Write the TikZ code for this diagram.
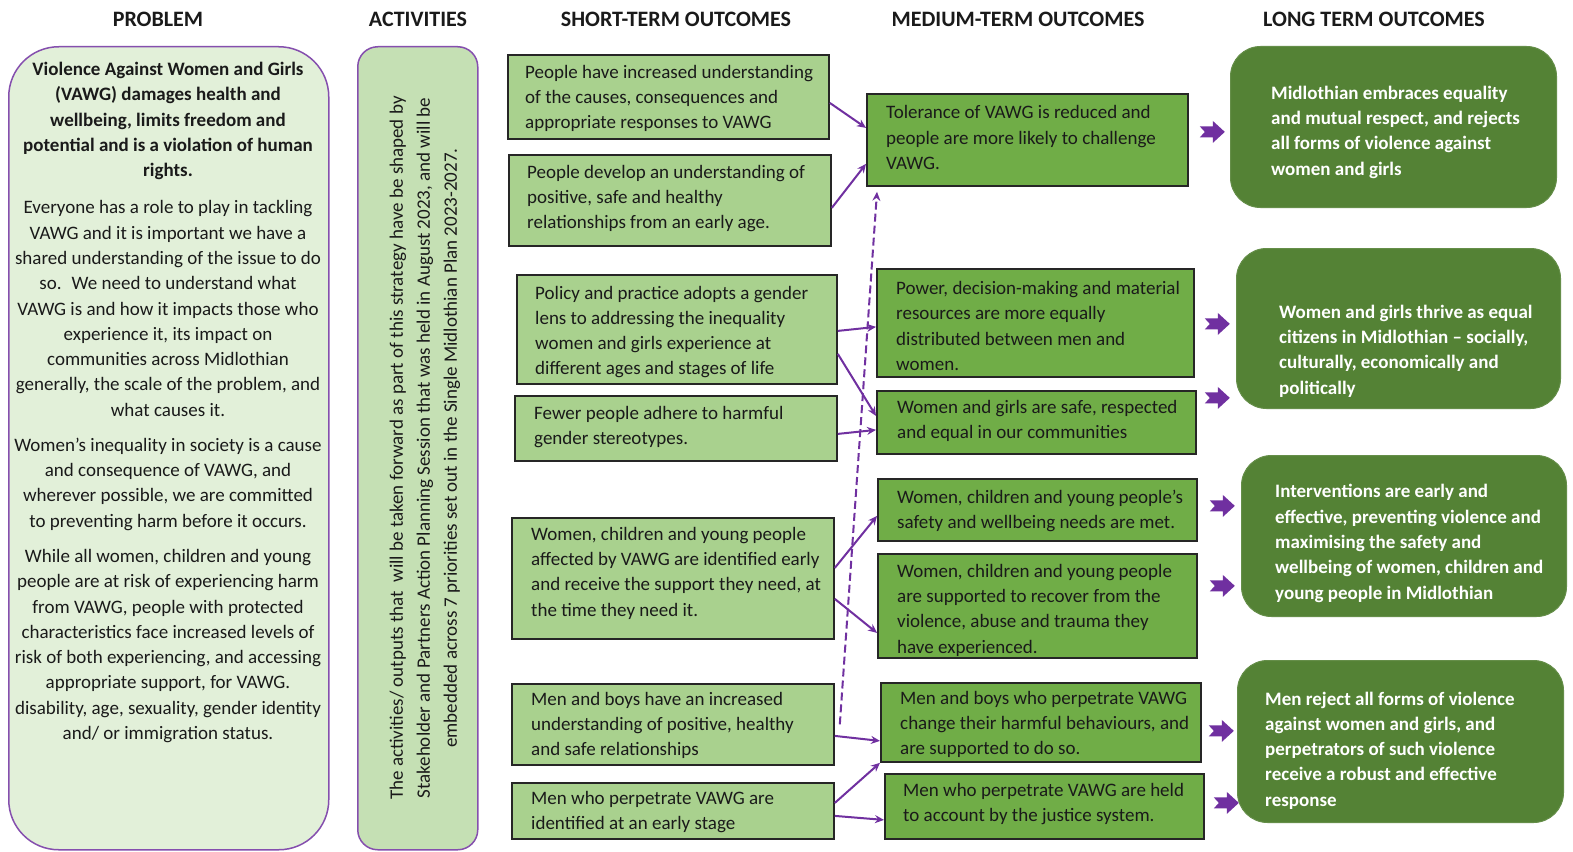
\documentclass[tikz,border=0pt]{standalone}
\usepackage{fontspec}
\setmainfont{Carlito}
\usetikzlibrary{arrows.meta,calc}
\definecolor{vpurple}{HTML}{7030A0}
\definecolor{probfill}{HTML}{E2F0D9}
\definecolor{actfill}{HTML}{C5E0B4}
\definecolor{shortfill}{HTML}{A9D18E}
\definecolor{medfill}{HTML}{70AD47}
\definecolor{longfill}{HTML}{548235}
\definecolor{boxline}{HTML}{262626}
\definecolor{txtdark}{HTML}{1A1A1A}
\tikzset{
  header/.style={font=\fontsize{22}{24}\selectfont\bfseries, text=txtdark, inner sep=0pt},
  sbox/.style={draw=boxline, line width=1.8pt, fill=shortfill, rectangle, inner sep=0pt, anchor=north west},
  mbox/.style={draw=boxline, line width=1.8pt, fill=medfill, rectangle, inner sep=0pt, anchor=north west},
  lbox/.style={draw=longfill!90!white, line width=1pt, fill=longfill, rectangle, rounded corners=30pt, inner sep=0pt, anchor=north west},
  body/.style={font=\fontsize{19}{25.3}\selectfont, align=left, inner sep=0pt, anchor=west, text=txtdark, yshift=-2.5pt},
  lbody/.style={font=\fontsize{19}{25.3}\selectfont\bfseries, align=left, inner sep=0pt, anchor=west, text=white, yshift=-2.5pt},
  pbody/.style={font=\fontsize{19}{25.3}\selectfont, align=center, inner sep=0pt, text=txtdark, yshift=-3pt},
  conn/.style={draw=vpurple, line width=2pt, -{Stealth[length=9pt,width=8pt]}},
  dconn/.style={draw=vpurple, line width=2pt, dash pattern=on 8pt off 4pt, -{Stealth[length=9pt,width=8pt]}},
  blk/.pic={\fill[vpurple] (0,-5.5)--(13,-5.5)--(13,-11)--(25,0)--(13,11)--(13,5.5)--(0,5.5)--(5,0)--cycle;}
}
\begin{document}
\begin{tikzpicture}[x=1pt,y=-1pt]
\useasboundingbox (0,0) rectangle (1573,851);
\fill[white] (0,0) rectangle (1573,851);

% headers
\node[header] (hprob) at (158,19.5) {PROBLEM};
\node[header] (hact) at (418,19.5) {ACTIVITIES};
\node[header] (hshort) at (676,19.5) {SHORT-TERM OUTCOMES};
\node[header] (hmed) at (1018,19.5) {MEDIUM-TERM OUTCOMES};
\node[header] (hlong) at (1374,19.5) {LONG TERM OUTCOMES};

% problem
\node[draw=vpurple!85, line width=1.5pt, fill=probfill, rounded corners=50pt, minimum width=320pt, minimum height=803pt, inner sep=0pt, anchor=north west] (prob) at (8,46) {};
\node[pbody, font=\fontsize{19}{25.3}\selectfont\bfseries] (p1) at (168,118) {Violence Against Women and Girls\\(VAWG) damages health and\\wellbeing, limits freedom and\\potential and is a violation of human\\rights.};
\node[pbody] (p2) at (168,305.5) {Everyone has a role to play in tackling\\VAWG and it is important we have a\\shared understanding of the issue to do\\so.~ We need to understand what\\VAWG is and how it impacts those who\\experience it, its impact on\\communities across Midlothian\\generally, the scale of the problem, and\\what causes it.};
\node[pbody] (p3) at (168,481) {Women’s inequality in society is a cause\\and consequence of VAWG, and\\wherever possible, we are committed\\to preventing harm before it occurs.};
\node[pbody] (p4) at (168,643) {While all women, children and young\\people are at risk of experiencing harm\\from VAWG, people with protected\\characteristics face increased levels of\\risk of both experiencing, and accessing\\appropriate support, for VAWG.\\disability, age, sexuality, gender identity\\and/ or immigration status.};

% activities
\node[draw=vpurple!85, line width=1.5pt, fill=actfill, rounded corners=20pt, minimum width=120pt, minimum height=803pt, inner sep=0pt, anchor=north west] (act) at (357,46) {};
\node[rotate=90, inner sep=0pt, text=txtdark, align=center, font=\fontsize{19}{27}\selectfont] (actt) at (425,448) {The activities/ outputs that~ will be taken forward as part of this strategy have be shaped by\\Stakeholder and Partners Action Planning Session that was held in August 2023, and will be\\embedded across 7 priorities set out in the Single Midlothian Plan 2023-2027.};

% short-term
\node[sbox, minimum width=321pt, minimum height=84pt] (s1) at (507,54) {};
\node[body] (s1t) at (525,96) {People have increased understanding\\of the causes, consequences and\\appropriate responses to VAWG};
\node[sbox, minimum width=322pt, minimum height=91pt] (s2) at (508,154) {};
\node[body] (s2t) at (527,196) {People develop an understanding of\\positive, safe and healthy\\relationships from an early age.};
\node[sbox, minimum width=320pt, minimum height=109pt] (s3) at (516,274) {};
\node[body] (s3t) at (535,329.5) {Policy and practice adopts a gender\\lens to addressing the inequality\\women and girls experience at\\different ages and stages of life};
\node[sbox, minimum width=322pt, minimum height=65pt] (s4) at (514,395) {};
\node[body] (s4t) at (534,424.5) {Fewer people adhere to harmful\\gender stereotypes.};
\node[sbox, minimum width=322pt, minimum height=121pt] (s5) at (511,517) {};
\node[body] (s5t) at (531,570.5) {Women, children and young people\\affected by VAWG are identified early\\and receive the support they need, at\\the time they need it.};
\node[sbox, minimum width=322pt, minimum height=81pt] (s6) at (511,683) {};
\node[body] (s6t) at (531,723) {Men and boys have an increased\\understanding of positive, healthy\\and safe relationships};
\node[sbox, minimum width=322pt, minimum height=56pt] (s7) at (511,782) {};
\node[body] (s7t) at (531,809.5) {Men who perpetrate VAWG are\\identified at an early stage};

% medium-term
\node[mbox, minimum width=321pt, minimum height=92pt] (m1) at (866,93) {};
\node[body] (m1t) at (886,135) {Tolerance of VAWG is reduced and\\people are more likely to challenge\\VAWG.};
\node[mbox, minimum width=317pt, minimum height=108pt] (m2) at (876,268) {};
\node[body] (m2t) at (896,323.5) {Power, decision-making and material\\resources are more equally\\distributed between men and\\women.};
\node[mbox, minimum width=319pt, minimum height=63pt] (m3) at (876,390) {};
\node[body] (m3t) at (897,418.5) {Women and girls are safe, respected\\and equal in our communities};
\node[mbox, minimum width=319pt, minimum height=62pt] (m4) at (877,478) {};
\node[body] (m4t) at (897,508.5) {Women, children and young people’s\\safety and wellbeing needs are met.};
\node[mbox, minimum width=319pt, minimum height=104pt] (m5) at (877,553) {};
\node[body] (m5t) at (897,607.5) {Women, children and young people\\are supported to recover from the\\violence, abuse and trauma they\\have experienced.};
\node[mbox, minimum width=320pt, minimum height=79pt] (m6) at (880,682) {};
\node[body] (m6t) at (900,722) {Men and boys who perpetrate VAWG\\change their harmful behaviours, and\\are supported to do so.};
\node[mbox, minimum width=319pt, minimum height=65pt] (m7) at (884,773) {};
\node[body] (m7t) at (903,801.5) {Men who perpetrate VAWG are held\\to account by the justice system.};

% long-term
\node[lbox, minimum width=326pt, minimum height=161pt] (l1) at (1230,46) {};
\node[lbody] (l1t) at (1271,129.5) {Midlothian embraces equality\\and mutual respect, and rejects\\all forms of violence against\\women and girls};
\node[lbox, minimum width=324pt, minimum height=160pt] (l2) at (1236,248) {};
\node[lbody] (l2t) at (1279,348.5) {Women and girls thrive as equal\\citizens in Midlothian – socially,\\culturally, economically and\\politically};
\node[lbox, minimum width=325pt, minimum height=161pt] (l3) at (1241,455) {};
\node[lbody] (l3t) at (1275,541) {Interventions are early and\\effective, preventing violence and\\maximising the safety and\\wellbeing of women, children and\\young people in Midlothian};
\node[lbox, minimum width=326pt, minimum height=162pt] (l4) at (1237,660) {};
\node[lbody] (l4t) at (1265,748) {Men reject all forms of violence\\against women and girls, and\\perpetrators of such violence\\receive a robust and effective\\response};

% connectors short -> medium
\draw[conn] ([yshift=-6pt]s1.east) -- ([yshift=12pt]m1.west);
\draw[conn] ([yshift=-7.5pt]s2.east) -- ([yshift=-24pt]m1.west);
\draw[conn] ([yshift=-1.5pt]s3.east) -- ([yshift=-4pt]m2.west);
\draw[conn] ([yshift=-24.5pt]s3.east) -- ([yshift=6.5pt]m3.west);
\draw[conn] ([yshift=-5.5pt]s4.east) -- ([yshift=-7.5pt]m3.west);
\draw[conn] ([yshift=10.5pt]s5.east) -- ([yshift=-6pt]m4.west);
\draw[conn] ([yshift=-20.5pt]s5.east) -- ([yshift=-27pt]m5.west);
\draw[conn] ([yshift=-11.5pt]s6.east) -- ([yshift=-18.5pt]m6.west);
\draw[conn] ([yshift=8pt]s7.east) -- (m6.south west);
\draw[conn] ([yshift=-5pt]s7.east) -- ([yshift=-13.5pt]m7.west);
\draw[dconn] ([xshift=5pt]s6.east) -- ([xshift=11pt,yshift=-5pt]m1.south west);

% block arrows medium -> long
\pic at ([xshift=11pt,yshift=8pt]m1.east) {blk};
\pic at ([xshift=10pt,yshift=-1pt]m2.east) {blk};
\pic at ([xshift=8pt,yshift=24.5pt]m3.east) {blk};
\pic at ([xshift=12pt,yshift=4pt]m4.east) {blk};
\pic at ([xshift=12pt,yshift=20pt]m5.east) {blk};
\pic at ([xshift=7pt,yshift=-8.5pt]m6.east) {blk};
\pic at ([xshift=9pt,yshift=3.5pt]m7.east) {blk};
\end{tikzpicture}
\end{document}
